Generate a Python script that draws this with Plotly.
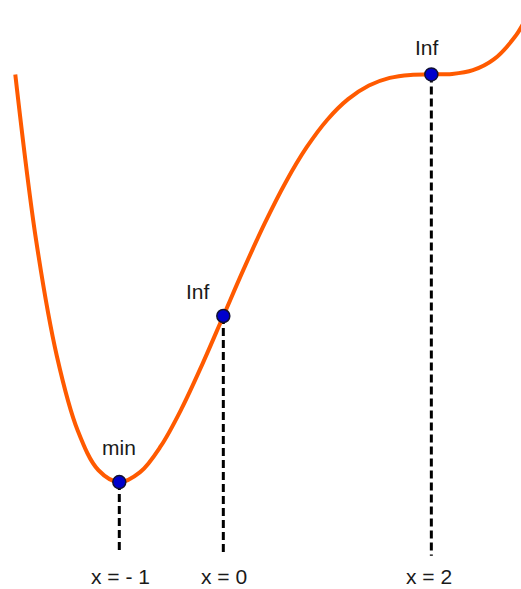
import plotly.graph_objects as go

# Curve f(x) sampled along x
curve_x = [-2.0, -1.8, -1.6, -1.4, -1.2, -1.0, -0.8, -0.6, -0.4, -0.2,
           0.0, 0.2, 0.4, 0.6, 0.8, 1.0, 1.2, 1.4, 1.6, 1.8,
           2.0, 2.2, 2.4, 2.6, 2.8, 2.9]
curve_y = [4.0, 1.256, -0.666, -1.896, -2.554, -2.75, -2.586, -2.152, -1.53, -0.792,
           0.0, 0.792, 1.542, 2.216, 2.79, 3.25, 3.59, 3.816, 3.942, 3.992,
           4.0, 4.008, 4.07, 4.248, 4.614, 4.893]

# Critical points: minimum and two inflection points
point_x = [-1.0, 0.0, 2.0]
point_y = [-2.75, 0.0, 4.0]
point_names = ["min", "Inf", "Inf"]
axis_labels = ["x = - 1", "x = 0", "x = 2"]

# Where the dashed guides end and where the labels sit
guide_bottom = [-3.91, -3.97, -3.97]
name_pos_x = [-1.0, -0.24, 1.96]
name_pos_y = [-2.17, 0.40, 4.45]
label_pos_x = [-0.99, 0.01, 1.98]
label_y = -4.32

FONT = "Liberation Sans, Arial, sans-serif"
TEXT_SIZE = 21

fig = go.Figure()

# dashed vertical guides from each point down to its x label
for px, py, pb in zip(point_x, point_y, guide_bottom):
    fig.add_trace(go.Scatter(
        x=[px, px], y=[py, pb], mode="lines",
        line=dict(color="black", width=3, dash="8px,4px"),
        hoverinfo="skip", showlegend=False))

# the curve
fig.add_trace(go.Scatter(
    x=curve_x, y=curve_y, mode="lines",
    line=dict(color="#ff5a00", width=4, shape="spline", smoothing=1.0),
    showlegend=False))

# marked points
fig.add_trace(go.Scatter(
    x=point_x, y=point_y, mode="markers",
    marker=dict(size=13, color="#0000cc", line=dict(color="#111133", width=1.5)),
    showlegend=False))

for nx, ny, name in zip(name_pos_x, name_pos_y, point_names):
    fig.add_annotation(x=nx, y=ny, text=name, showarrow=False,
                       font=dict(family=FONT, size=TEXT_SIZE, color="#1a1a1a"),
                       xanchor="center", yanchor="middle")

for lx, lab in zip(label_pos_x, axis_labels):
    fig.add_annotation(x=lx, y=label_y, text=lab, showarrow=False,
                       font=dict(family=FONT, size=TEXT_SIZE, color="#1a1a1a"),
                       xanchor="center", yanchor="middle")

fig.update_layout(
    width=521, height=589,
    margin=dict(l=0, r=0, t=0, b=0),
    paper_bgcolor="white", plot_bgcolor="white",
    xaxis=dict(range=[-2.147, 2.862], visible=False, fixedrange=True),
    yaxis=dict(range=[-4.52, 5.232], visible=False, fixedrange=True),
)

fig.write_html("out.html", config={"displayModeBar": False})
